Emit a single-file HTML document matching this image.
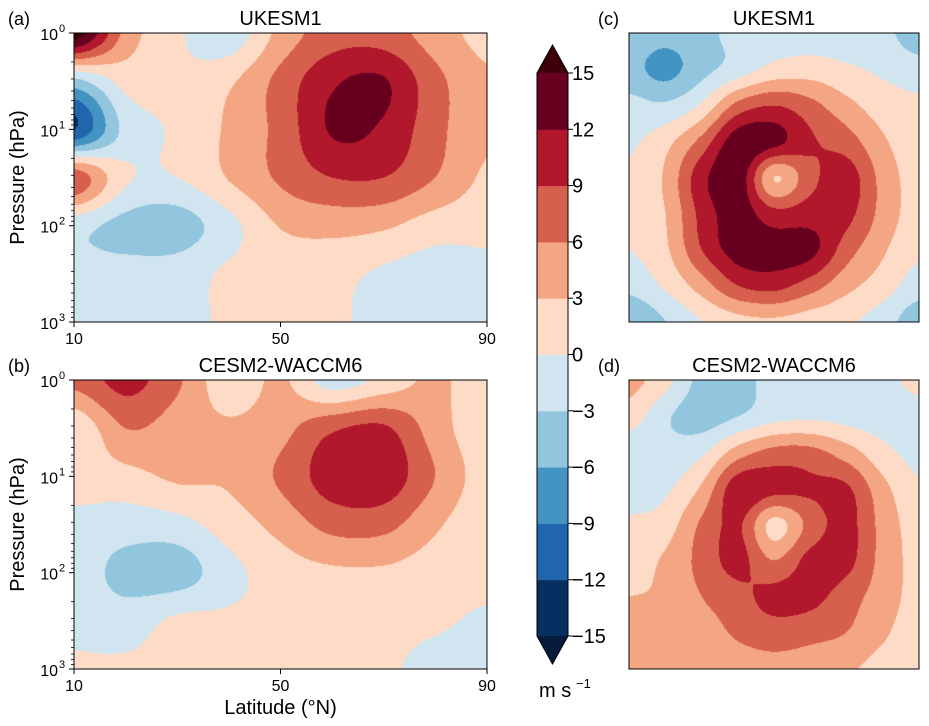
<!DOCTYPE html>
<html><head><meta charset="utf-8"><style>
body{margin:0;background:#fff;width:929px;height:726px;overflow:hidden;position:relative;font-family:"Liberation Sans",sans-serif;color:#000}
canvas,svg{position:absolute;left:0;top:0}
</style></head><body>
<canvas id="cv" width="929" height="726"></canvas>
<svg id="ov" width="929" height="726" font-family="Liberation Sans, sans-serif"></svg>
<script>
// ---- data ----
const levels = [-15,-12,-9,-6,-3,0,3,6,9,12,15];
const colors = ['#061a3a','#053061','#2166ac','#4393c3','#92c5de','#d1e5f0','#fddbc7','#f4a582','#d6604d','#b2182b','#67001f','#3d0008'];
const latitudes = [10,20,30,40,50,60,70,80,90];
const logPressure = [0,0.5,1,1.5,2,2.5,3];
const ukesmZonal = [
 [17,5,0.5,-2,4,7.5,7.5,4.5,2],
 [-4,1,0.5,2.5,7,11.5,12.3,7,3.5],
 [-12,-2,0.5,3.5,7,12.3,11.5,7,3.5],
 [8,0.5,0,3.2,6.5,9,9,6,2.5],
 [-2,-4,-4.5,-1,3.2,4,3.5,1.5,1],
 [-2,-2,-1.5,0.5,1,1,-0.5,-1.5,-1],
 [-1.5,-1.5,-1,0.5,1,0.5,-1,-2,-1.5]];
const cesmZonal = [
 [7,10,6.5,1,3.5,-1.5,1,3.5,1],
 [0.5,6,4.5,3.5,5,8.5,9.5,4.5,1],
 [1.5,2,3.5,3.5,6.5,10.5,11,6,1.5],
 [-1,-1.5,-1,1.5,4,7,7,3.5,1],
 [-1.5,-4,-4.5,-1,1.5,2.5,2.5,1.5,1],
 [-1,-1.5,0.5,0.5,0.8,1.5,1,0.5,-0.5],
 [0.5,0.5,1,1,1,1,0.5,-1,-1.5]];
const ukesmMap = [
 [-4,-5,-4,-2,-1.5,-1.5,-1.5,-2,-5],
 [-5,-7,-4,-1.5,1,1.5,0.5,-0.5,-1.5],
 [-2,-2.5,0.5,7,9,7,4,1.5,0.5],
 [-0.5,2,7,14,13,9.5,7.5,3.5,1],
 [0.5,3.5,11,14,3,8,10.5,5,1.5],
 [1,3,10,13.5,10,10.5,10,5,1.5],
 [0,2.5,9,13.5,13.5,13,7.5,3.5,0.5],
 [-2,0.5,4.5,9,10,7.5,4,1.5,-1.5],
 [-6,-3,0,2,2.5,1.5,0.5,-1.5,-5]];
const cesmMap = [
 [4,1,-4,-4,-2,-1.5,-1,-1,1],
 [1.5,-2.5,-4.5,-3,-1,-0.5,-1,-1.5,-1.5],
 [-2,-2,-0.5,4.5,7,7,4.5,1,-1],
 [-1.5,-0.5,3.5,11,10,9.5,9.5,4,0.5],
 [0.5,1.5,6.5,9.5,2,7,10,5,1.5],
 [1.5,3.5,7,10,6,10,10,5,2],
 [3,3.5,6,8,10,10,7.5,4.5,2],
 [3.5,3.5,4.5,6.5,7.5,7,6,3.5,1.5],
 [3.5,3.5,3.5,4.5,5,4.5,3.5,2,1]];
const cbarTicks = [15,12,9,6,3,0,-3,-6,-9,-12,-15];

// ---- rendering ----
const ctx=document.getElementById('cv').getContext('2d');
function hex(c){return [1,3,5].map(i=>parseInt(c.substr(i,2),16));}
const rgb=colors.map(hex);
function colorIdx(v){let i=0;while(i<levels.length&&v>=levels[i])i++;return i;}
function cr(p0,p1,p2,p3,t){return 0.5*((2*p1)+(-p0+p2)*t+(2*p0-5*p1+4*p2-p3)*t*t+(-p0+3*p1-3*p2+p3)*t*t*t);}
function sample(g,u,v){
  const R=g.length,C=g[0].length;
  const gi=(r,c)=>g[Math.max(0,Math.min(R-1,r))][Math.max(0,Math.min(C-1,c))];
  const c0=Math.floor(u),r0=Math.floor(v),tu=u-c0,tv=v-r0;
  const rows=[];
  for(let k=-1;k<=2;k++){rows.push(cr(gi(r0+k,c0-1),gi(r0+k,c0),gi(r0+k,c0+1),gi(r0+k,c0+2),tu));}
  return cr(rows[0],rows[1],rows[2],rows[3],tv);
}
function panel(g,x0,y0,w,h){
  const img=ctx.createImageData(w,h);
  const C=g[0].length-1,R=g.length-1;
  for(let y=0;y<h;y++)for(let x=0;x<w;x++){
    const v=sample(g,x/(w-1)*C,y/(h-1)*R);
    const c=rgb[colorIdx(v)];const k=(y*w+x)*4;
    img.data[k]=c[0];img.data[k+1]=c[1];img.data[k+2]=c[2];img.data[k+3]=255;
  }
  ctx.putImageData(img,x0,y0);
}
panel(ukesmZonal,74,33,413,289);
panel(cesmZonal,74,380,413,289);
panel(ukesmMap,629,33,290,289);
panel(cesmMap,629,380,290,289);

const NS='http://www.w3.org/2000/svg';
const ov=document.getElementById('ov');
function el(tag,attrs,txt){const e=document.createElementNS(NS,tag);for(const k in attrs)e.setAttribute(k,attrs[k]);if(txt!==undefined)e.textContent=txt;ov.appendChild(e);return e;}

// colorbar
const cbX=537,cbW=31,cbTop=73,cbBot=636;
const cbY=v=>cbBot-(v+15)/30*(cbBot-cbTop);
for(let i=0;i<levels.length-1;i++){
  const r=el('rect',{x:cbX,y:cbY(levels[i+1]),width:cbW,height:cbY(levels[i])-cbY(levels[i+1])+0.5,fill:colors[i+1]});
  
  
}
let t1=el('polygon',{points:`${cbX},${cbTop} ${cbX+cbW},${cbTop} ${cbX+cbW/2},45`,fill:colors[11]});

let t2=el('polygon',{points:`${cbX},${cbBot} ${cbX+cbW},${cbBot} ${cbX+cbW/2},664`,fill:colors[0]});

let cbo=el('polygon',{points:`${cbX+cbW/2},45 ${cbX+cbW},${cbTop} ${cbX+cbW},${cbBot} ${cbX+cbW/2},664 ${cbX},${cbBot} ${cbX},${cbTop}`,fill:'none',stroke:'#000','stroke-width':1});

cbarTicks.forEach(v=>{
  const y=cbY(v);
  el('line',{x1:cbX+cbW,x2:cbX+cbW+5,y1:y,y2:y,stroke:'#000'});
  const t=el('text',{x:cbX+cbW+4,y:y+7,'font-size':20},v<0?'\u2212'+(-v):String(v));
  
  
});
let u=el('text',{x:539,y:697,'font-size':20},'m s');

el('text',{x:576,y:688,'font-size':13},'\u22121');

// zonal axes
function zonalAxes(y0,title,letter,showX){
  const x0=74,w=413,h=289;
  const f=el('rect',{x:x0,y:y0,width:w,height:h,fill:'none',stroke:'#000','stroke-width':1});
  
  [10,50,90].forEach(lat=>{
    const x=x0+(lat-10)/80*w;
    el('line',{x1:x,x2:x,y1:y0+h,y2:y0+h+5,stroke:'#000'});
    const t=el('text',{x:x,y:y0+h+22,'font-size':16,'text-anchor':'middle'},String(lat));
    
  });
  for(let d=0;d<=3;d++){
    const y=y0+d/3*h;
    el('line',{x1:x0-5,x2:x0,y1:y,y2:y,stroke:'#000'});
    const t=el('text',{x:x0-16,y:y+7,'font-size':16,'text-anchor':'end'},'10');
    
    el('text',{x:x0-15,y:y-1,'font-size':11},String(d));
    if(d<3)for(let m=2;m<10;m++){const ym=y0+(d+Math.log10(m))/3*h;el('line',{x1:x0-3,x2:x0,y1:ym,y2:ym,stroke:'#000','stroke-width':0.8});}
  }
  const yl=el('text',{x:0,y:0,'font-size':20,'text-anchor':'middle',transform:`translate(24,${y0+h/2}) rotate(-90)`},'Pressure (hPa)');
  
  const tt=el('text',{x:x0+w/2,y:y0-8,'font-size':20,'text-anchor':'middle'},title);
  
  const lt=el('text',{x:8,y:y0-8,'font-size':18},letter);
  
  if(showX){const xl=el('text',{x:x0+w/2,y:y0+h+45,'font-size':20,'text-anchor':'middle'},'Latitude (\u00b0N)');
    }
}
zonalAxes(33,'UKESM1','(a)',false);
zonalAxes(380,'CESM2-WACCM6','(b)',true);
function mapAxes(y0,title,letter){
  const f=el('rect',{x:629,y:y0,width:290,height:289,fill:'none',stroke:'#000','stroke-width':1});
  
  const tt=el('text',{x:774,y:y0-8,'font-size':20,'text-anchor':'middle'},title);
  
  const lt=el('text',{x:598,y:y0-8,'font-size':18},letter);
  
}
mapAxes(33,'UKESM1','(c)');
mapAxes(380,'CESM2-WACCM6','(d)');
</script>
</body></html>
